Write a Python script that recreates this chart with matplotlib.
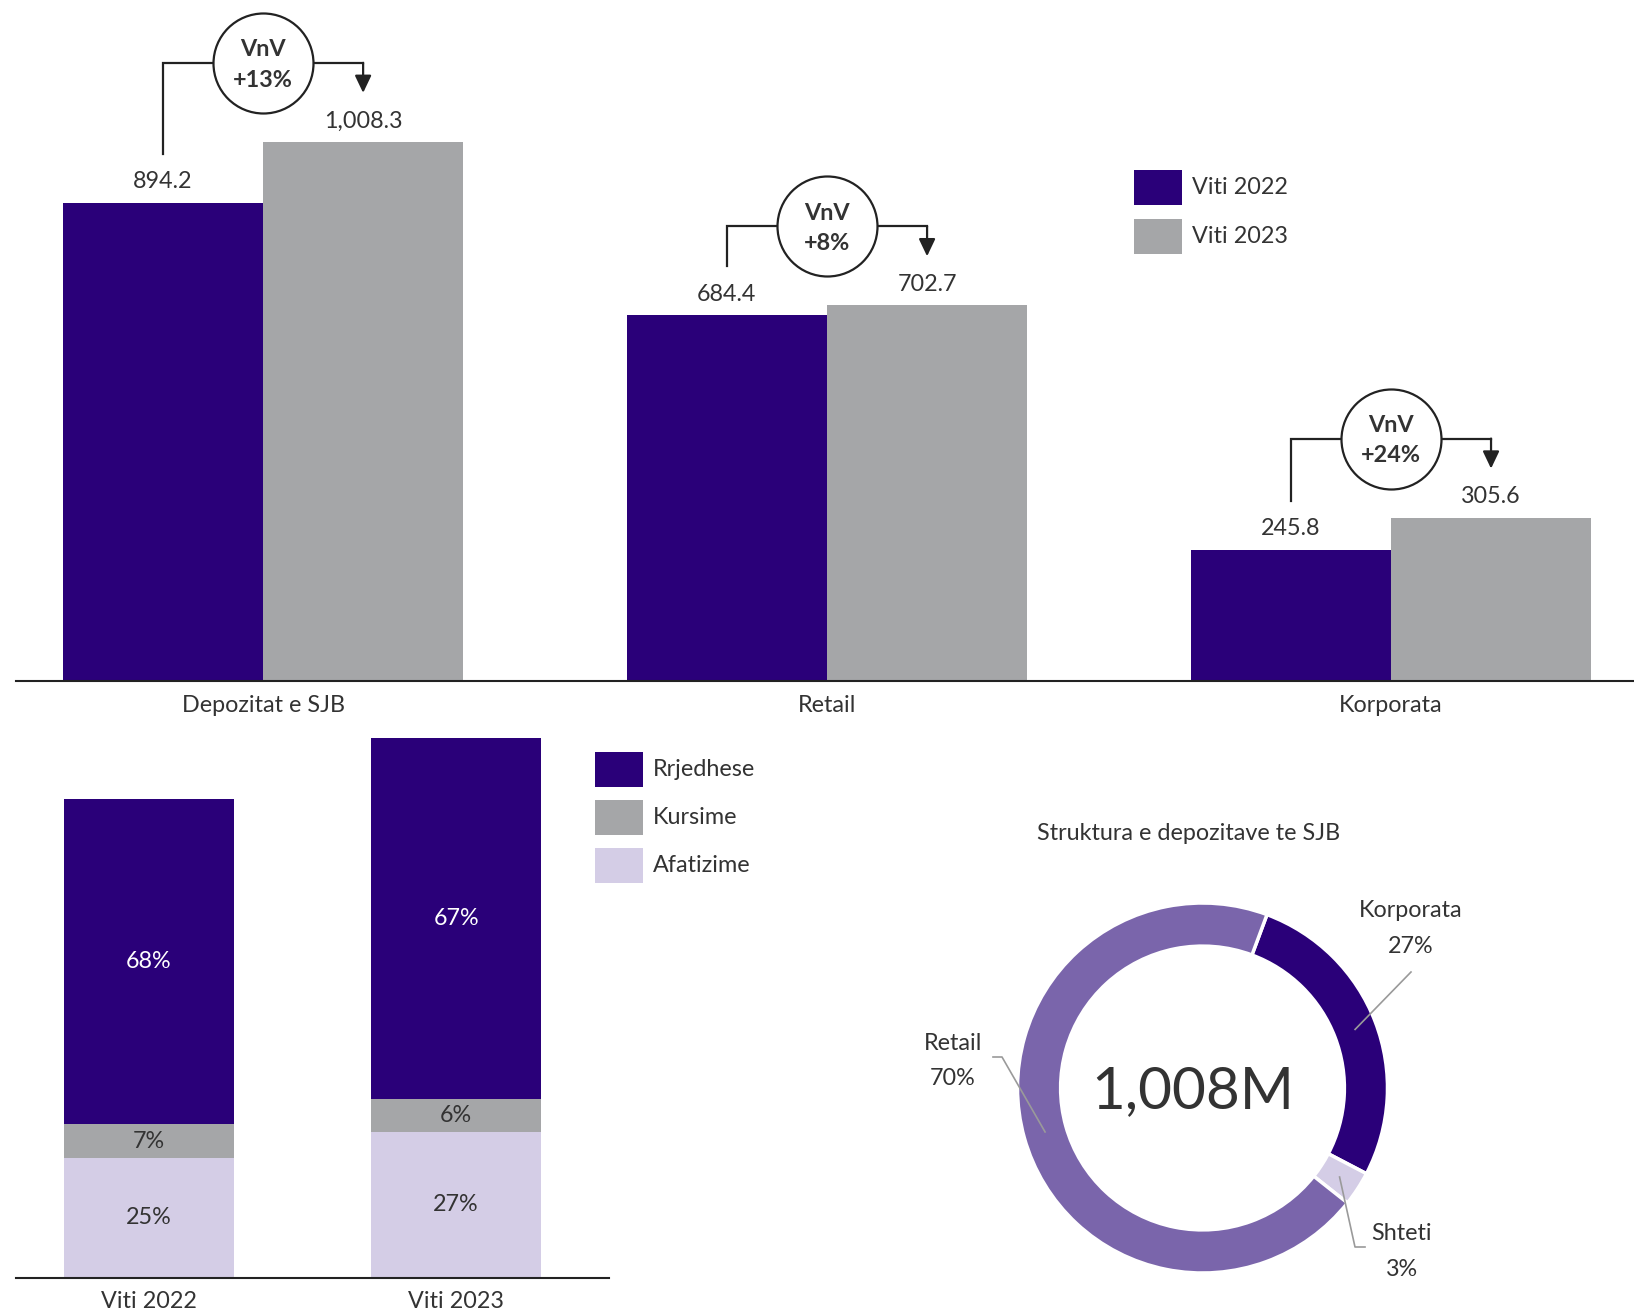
import matplotlib
matplotlib.use("Agg")
import matplotlib.pyplot as plt
from matplotlib.patches import Rectangle
import numpy as np

plt.rcParams['font.family'] = ['Lato', 'DejaVu Sans']

# ---------------- data ----------------
categories = ["Depozitat e SJB", "Retail", "Korporata"]
years = ["Viti 2022", "Viti 2023"]
values_2022 = [894.2, 684.4, 245.8]
values_2023 = [1008.3, 702.7, 305.6]
yoy_labels = ["+13%", "+8%", "+24%"]

# deposit types, stacked bottom-up
deposit_types = ["Afatizime", "Kursime", "Rrjedhese"]
shares_2022 = [25, 7, 68]
shares_2023 = [27, 6, 67]
year_totals = [894.2, 1008.3]

segments = ["Korporata", "Shteti", "Retail"]
segment_shares = [27, 3, 70]
donut_title = "Struktura e depozitave te SJB"
donut_center_label = "1,008M"

# ---------------- style ----------------
DARK = "#2a0079"
GRAY = "#a5a6a8"
LAV = "#d4cde6"
MID = "#7a65ab"
TXT = "#333333"
LINE = "#222222"
FS = 16.8

W, H = 1634, 1314
fig = plt.figure(figsize=(W / 100, H / 100), dpi=100)


def fig_rect(left, top, right, bottom):
    return [left / W, 1 - bottom / H, (right - left) / W, (bottom - top) / H]


def fig_xy(x, y):
    return x / W, 1 - y / H


def draw_legend(labels, colors, x, y, step, sw=48, sh=35, size=FS):
    for k, (lab, col) in enumerate(zip(labels, colors)):
        top = y + k * step
        l, b = fig_xy(x, top + sh)
        fig.add_artist(Rectangle((l, b), sw / W, sh / H, transform=fig.transFigure,
                                 facecolor=col, edgecolor='none'))
        tx, ty = fig_xy(x + sw + 10, top + sh / 2)
        fig.text(tx, ty, lab, ha='left', va='center', fontsize=size, color=TXT)


# ---------------- grouped bars ----------------
ax1 = fig.add_axes(fig_rect(16, 0, 1634, 681))
ax1.patch.set_visible(False)
x = np.arange(len(categories))
w = 0.355
ax1.bar(x - w / 2, values_2022, w, color=DARK, label=years[0])
ax1.bar(x + w / 2, values_2023, w, color=GRAY, label=years[1])
ymax = 1273.6
ax1.set_ylim(0, ymax)
ax1.set_xlim(-0.438, 2.431)
u = ymax / 681.0  # data units per pixel

for s in ["top", "right", "left"]:
    ax1.spines[s].set_visible(False)
ax1.spines["bottom"].set_color(LINE)
ax1.spines["bottom"].set_linewidth(1.5)
ax1.set_yticks([])
ax1.set_xticks(x, categories)
ax1.tick_params(axis='x', length=0, pad=10, labelsize=FS, labelcolor=TXT)

for i, (v0, v1, yoy) in enumerate(zip(values_2022, values_2023, yoy_labels)):
    x0, x1 = i - w / 2, i + w / 2
    ax1.text(x0, v0 + 21 * u, f"{v0:,.1f}", ha='center', va='center', fontsize=FS, color=TXT)
    ax1.text(x1, v1 + 21 * u, f"{v1:,.1f}", ha='center', va='center', fontsize=FS, color=TXT)
    line_y = v1 + 79 * u
    ax1.plot([x0, x0, i, x1], [v0 + 49 * u, line_y, line_y, line_y], color=LINE, lw=1.6,
             solid_joinstyle='miter', zorder=3)
    ax1.annotate('', xy=(x1, v1 + 49 * u), xytext=(x1, line_y),
                 arrowprops=dict(arrowstyle='-|>,head_length=1.05,head_width=0.5',
                                 color=LINE, lw=1.6, shrinkA=0, shrinkB=0), zorder=3)
    ax1.plot(i, line_y, 'o', ms=72, mfc='white', mec=LINE, mew=1.6, zorder=5, clip_on=False)
    ax1.text(i, line_y - 2 * u, f"VnV\n{yoy}", ha='center', va='center', fontsize=16.8,
             fontweight='bold', color=TXT, linespacing=1.55, zorder=6)

draw_legend(years, [DARK, GRAY], 1134, 170, 49)

# ---------------- stacked bars ----------------
ax2 = fig.add_axes(fig_rect(16, 690, 608.6, 1277.5))
ax2.patch.set_visible(False)
xs = np.arange(len(years))
bw = 0.553
ax2.set_xlim(-0.431, 1.496)
ax2.set_ylim(0, 587.5 / 0.5351)
bottoms = np.zeros(len(years))
stack_colors = [LAV, GRAY, DARK]
text_colors = [TXT, TXT, "white"]
for j, name in enumerate(deposit_types):
    shares = np.array([shares_2022[j], shares_2023[j]])
    heights = shares * np.array(year_totals) / 100.0
    ax2.bar(xs, heights, bw, bottom=bottoms, color=stack_colors[j], label=name)
    for k in range(len(years)):
        ax2.text(xs[k], bottoms[k] + heights[k] / 2, f"{shares[k]}%", ha='center', va='center',
                 fontsize=FS, color=text_colors[j])
    bottoms += heights

for s in ["top", "right", "left"]:
    ax2.spines[s].set_visible(False)
ax2.spines["bottom"].set_color(LINE)
ax2.spines["bottom"].set_linewidth(1.5)
ax2.set_yticks([])
ax2.set_xticks(xs, years)
ax2.tick_params(axis='x', length=0, pad=10, labelsize=FS, labelcolor=TXT)

draw_legend(deposit_types[::-1], stack_colors[::-1], 595, 752, 48)

# ---------------- donut ----------------
CX, CY, R = 1202.5, 1088.0, 185.0
L = 1.5
side = 2 * L * R
ax3 = fig.add_axes(fig_rect(CX - side / 2, CY - side / 2, CX + side / 2, CY + side / 2))
ax3.patch.set_visible(False)
start = 69.6
ring = 0.233
wedges, _ = ax3.pie(segment_shares, colors=[DARK, LAV, MID], startangle=start,
                    counterclock=False, radius=1.0,
                    wedgeprops=dict(width=ring, edgecolor='white', linewidth=2.5))
ax3.set_xlim(-L, L)
ax3.set_ylim(-L, L)
ax3.axis('off')


def px(xp, yp):
    return (xp - CX) / R, (CY - yp) / R


# leader lines from each wedge's mid-angle on the ring to its label
elbows = {
    "Korporata": [px(1411, 972)],
    "Shteti": [px(1355, 1247), px(1365, 1247)],
    "Retail": [px(1002, 1057), px(993, 1057)],
}
label_pos = {
    "Korporata": (px(1411, 910), px(1411, 946)),
    "Shteti": (px(1402, 1233), px(1402, 1270)),
    "Retail": (px(953, 1043), px(953, 1078)),
}
cum = 0.0
total = float(sum(segment_shares))
for name, share in zip(segments, segment_shares):
    mid = start - 360.0 * (cum + share / 2) / total
    cum += share
    rr = 1 - ring / 2
    p0 = (rr * np.cos(np.radians(mid)), rr * np.sin(np.radians(mid)))
    pts = [p0] + elbows[name]
    ax3.plot([p[0] for p in pts], [p[1] for p in pts], color="#9a9a9a", lw=1.2,
             clip_on=False, zorder=4)
    (nx, ny), (sx, sy) = label_pos[name]
    ax3.text(nx, ny, name, ha='center', va='center', fontsize=FS, color=TXT)
    ax3.text(sx, sy, f"{share}%", ha='center', va='center', fontsize=FS, color=TXT)

ax3.text(*px(1193, 1092), donut_center_label, ha='center', va='center', fontsize=42,
         color=TXT)
tx, ty = fig_xy(1189, 833)
fig.text(tx, ty, donut_title, ha='center', va='center', fontsize=FS, color=TXT)

fig.savefig("out.png", dpi=100, facecolor='white')
